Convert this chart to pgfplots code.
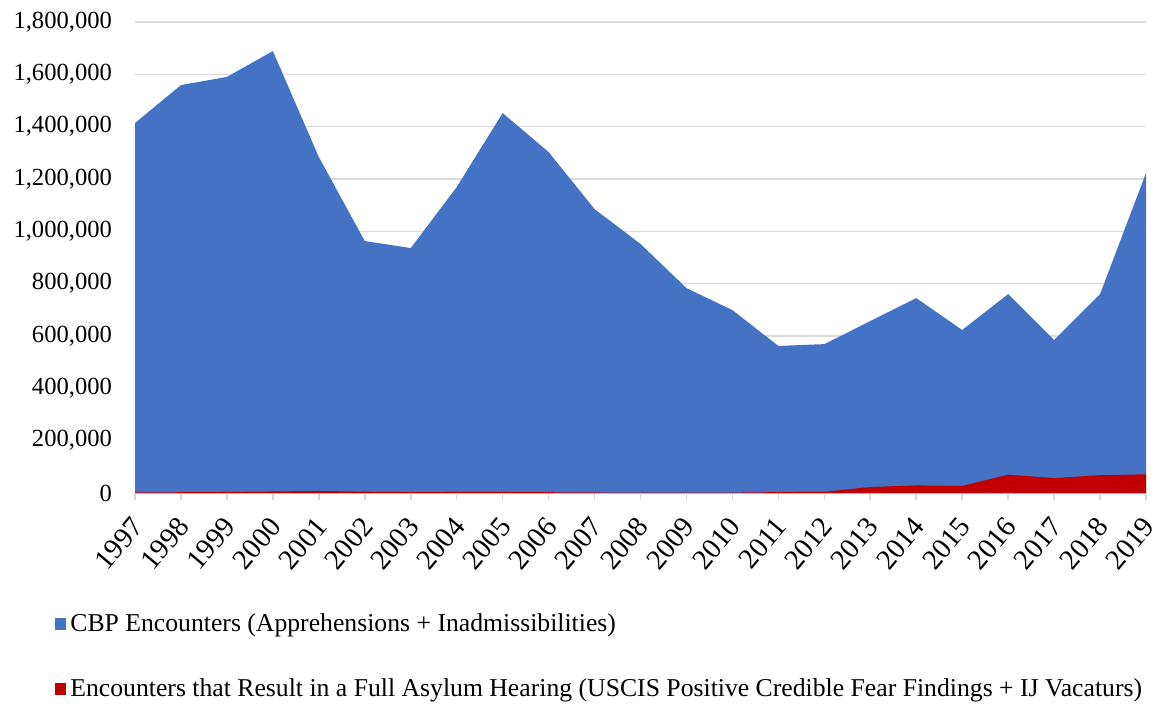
\documentclass[border=0pt]{standalone}
\usepackage{fontspec}
\setmainfont{Liberation Serif}
\usepackage{pgfplots}
\pgfplotsset{compat=1.18}
\definecolor{cbpblue}{HTML}{4472C4}
\definecolor{asyred}{HTML}{C00000}
\definecolor{gridgray}{HTML}{D9D9D9}
\begin{document}
\begin{tikzpicture}
\useasboundingbox (0,0) rectangle (578pt,351.5pt);
\begin{axis}[
  at={(67.5pt,105pt)}, anchor=south west,
  scale only axis, width=505.5pt, height=235.5pt,
  xmin=0, xmax=22, ymin=0, ymax=1800000,
  xtick={0,...,22},
  xticklabels={1997,1998,1999,2000,2001,2002,2003,2004,2005,2006,2007,2008,2009,2010,2011,2012,2013,2014,2015,2016,2017,2018,2019},
  ytick={0,200000,...,1800000},
  scaled y ticks=false,
  /pgf/number format/.cd, fixed, 1000 sep={,}, assume math mode=true,
  /pgfplots/.cd,
  axis line style={draw=none},
  axis x line*=bottom,
  axis y line*=left,
  ymajorgrids, grid style={gridgray, line width=0.8pt},
  y axis line style={draw=none},
  x axis line style={draw=gridgray, line width=0.8pt},
  ytick style={draw=none},
  xtick style={draw=gridgray, line width=0.8pt},
  major tick length=3.5pt,
  tick align=outside,
  every tick label/.append style={font=\fontsize{12.3}{14}\selectfont},
  xticklabel style={yshift=-7.5pt, xshift=-2.5pt, rotate=50, anchor=north east, inner sep=0pt, font=\fontsize{14.3}{15}\selectfont},
  yticklabel style={xshift=-4.5pt},
  legend style={at={(axis description cs:0,0)}, anchor=west, xshift=-40pt, yshift=-81.75pt,
    draw=none, fill=none, inner sep=0pt, row sep=18pt,
    font=\fontsize{12.85}{14}\selectfont, cells={anchor=west}},
  legend cell align=left,
  legend image code/.code={\fill[#1] (0pt,-3.2pt) rectangle (5.5pt,3.2pt);},
]
\addplot[fill=cbpblue, draw=none] coordinates {
(0,1414000) (1,1559000) (2,1590000) (3,1689000) (4,1284000) (5,963000)
(6,936000) (7,1169000) (8,1452000) (9,1303000) (10,1085000) (11,952000)
(12,783000) (13,699000) (14,562000) (15,569000) (16,657000) (17,745000)
(18,623000) (19,760000) (20,585000) (21,760000) (22,1223000)} \closedcycle;
\addlegendentry{CBP Encounters (Apprehensions + Inadmissibilities)}
\addplot[fill=asyred, draw=none] coordinates {
(0,2000) (1,3000) (2,4000) (3,6000) (4,8000) (5,5000)
(6,3500) (7,4000) (8,4000) (9,3000) (10,2000) (11,1500)
(12,1000) (13,1500) (14,3500) (15,4500) (16,23000) (17,29000)
(18,27000) (19,70000) (20,57000) (21,68000) (22,71500)} \closedcycle;
\addlegendentry{Encounters that Result in a Full Asylum Hearing (USCIS Positive Credible Fear Findings + IJ Vacaturs)}
\end{axis}
\end{tikzpicture}
\end{document}
